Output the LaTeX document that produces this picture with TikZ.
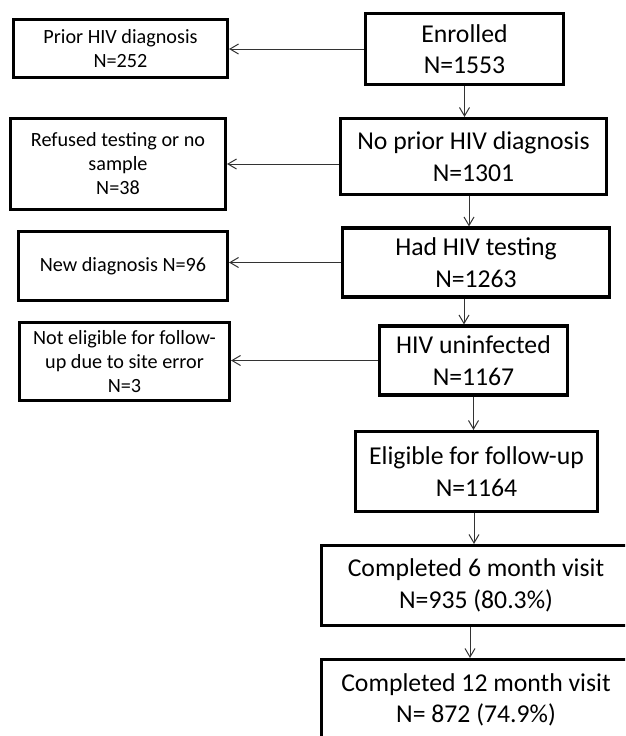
\documentclass[tikz,border=0pt]{standalone}
\usepackage{fontspec}
\setmainfont{Carlito}
\usetikzlibrary{arrows.meta}
\begin{document}
\begin{tikzpicture}[x=1pt,y=-1pt,
  bigbox/.style={draw=black,line width=3.1pt,align=center,inner sep=0pt,
    font=\fontsize{25.7}{31.5}\selectfont},
  smallbox/.style={draw=black,line width=3.1pt,align=center,inner sep=0pt,
    font=\fontsize{20.2}{24}\selectfont},
  arr/.style={draw=black!80,line width=0.9pt,-{Straight Barb[length=8.5pt,width=10pt,line width=1pt]}}]
\useasboundingbox (0,0) rectangle (625,736);
\clip (0,0) rectangle (625,736);
% main column
\node[bigbox,minimum width=198pt,minimum height=71pt] (enrolled) at (464.5,49) {Enrolled\\N=1553};
\node[bigbox,minimum width=266pt,minimum height=76pt] (noprior) at (473.5,156.5) {No prior HIV diagnosis\\N=1301};
\node[bigbox,minimum width=267pt,minimum height=69pt] (hadtest) at (476,262.5) {Had HIV testing\\N=1263};
\node[bigbox,minimum width=188pt,minimum height=69pt] (uninf) at (473.5,360.5) {HIV uninfected\\N=1167};
\node[bigbox,minimum width=242pt,minimum height=80pt] (elig) at (476.5,471.5) {Eligible for follow-up\\N=1164};
\node[bigbox,minimum width=309pt,minimum height=80pt] (comp6) at (476,585.5) {Completed 6 month visit\\N=935 (80.3\%)};
\node[bigbox,minimum width=309pt,minimum height=81pt] (comp12) at (476,700) {Completed 12 month visit\\N= 872 (74.9\%)};
% side boxes
\node[smallbox,minimum width=214pt,minimum height=58pt] (prior) at (120.5,48.5) {Prior HIV diagnosis\\N=252};
\node[smallbox,minimum width=215pt,minimum height=91pt] (refused) at (118,164) {Refused testing or no\\sample\\N=38};
\node[smallbox,minimum width=209pt,minimum height=69pt] (newdiag) at (123,266) {New diagnosis N=96};
\node[smallbox,minimum width=210pt,minimum height=78pt] (notelig) at (124.5,361.5) {Not eligible for follow-\\up due to site error\\N=3};
% horizontal connectors
\draw[arr] (enrolled.west) -- (prior.east |- enrolled.west);
\draw[arr] (noprior.west |- refused.east) -- (refused.east);
\draw[arr] (hadtest.west) -- (newdiag.east |- hadtest.west);
\draw[arr] (uninf.west) -- (notelig.east |- uninf.west);
% vertical connectors
\draw[arr] (enrolled.south) -- (enrolled.south |- noprior.north);
\draw[arr] ([xshift=-4.5pt]noprior.south) -- ([xshift=-4.5pt]noprior.south |- hadtest.north);
\draw[arr] ([xshift=-12pt]hadtest.south) -- ([xshift=-12pt]hadtest.south |- uninf.north);
\draw[arr] (uninf.south) -- (uninf.south |- elig.north);
\draw[arr] ([xshift=-2.5pt]elig.south) -- ([xshift=-2.5pt]elig.south |- comp6.north);
\draw[arr] ([xshift=-6pt]comp6.south) -- ([xshift=-6pt]comp6.south |- comp12.north);
\end{tikzpicture}
\end{document}
